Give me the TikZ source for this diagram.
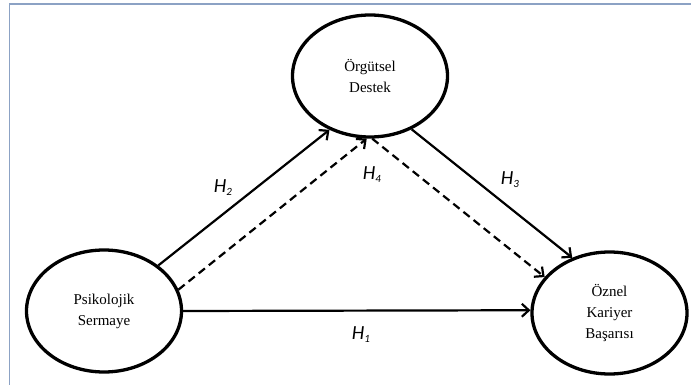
\documentclass[tikz,border=0pt]{standalone}
\usepackage{fontspec}
\setmainfont{Liberation Serif}
\newfontfamily\labelfont{Carlito}
\usetikzlibrary{arrows.meta,shapes.geometric}

\definecolor{FrameBlue}{RGB}{140,162,196}
\newcommand{\hyp}[1]{{\labelfont\itshape H\raisebox{-3pt}{\fontsize{11}{11}\selectfont #1}}} % Parameter: hypothesis number

\tikzset{
  construct/.style={draw=black,line width=3.3pt,ellipse,minimum width=155pt,minimum height=122pt,
    inner sep=0pt,align=center,font=\fontsize{15}{21}\selectfont},
  effect/.style={line width=2.2pt,-{Straight Barb[length=7pt,width=13pt,line width=2.2pt]}},
  mediation/.style={effect,dash pattern=on 8pt off 5pt},
  hyplabel/.style={inner sep=0pt,font=\fontsize{20}{20}\selectfont}
}

\begin{document}
\begin{tikzpicture}[x=1pt,y=-1pt]
  \useasboundingbox (0,0) rectangle (691,385);
  % frame
  \draw[FrameBlue,line width=1.5pt] (9.5,385) -- (9.5,4) -- (691,4);
  % constructs
  \node[construct] (ps)  at (104,311)   {Psikolojik\\Sermaye};
  \node[construct] (od)  at (370,76)    {Örgütsel\\Destek};
  \node[construct] (okb) at (609.5,313) {Öznel\\Kariyer\\Başarısı};
  % direct paths
  \draw[effect] (ps.east) -- (okb.178);
  \draw[effect] (ps.40) -- (od.233);
  \draw[effect] (od.308) -- (okb.124);
  % mediated path
  \draw[mediation] (ps.16) -- (od.267);
  \draw[mediation] (od.272) -- (okb.151);
  % hypotheses
  \node[hyplabel] (h1) at (361,335) {\hyp{1}};
  \node[hyplabel] (h2) at (223,188) {\hyp{2}};
  \node[hyplabel] (h3) at (510,180) {\hyp{3}};
  \node[hyplabel] (h4) at (372,175) {\hyp{4}};
\end{tikzpicture}
\end{document}
